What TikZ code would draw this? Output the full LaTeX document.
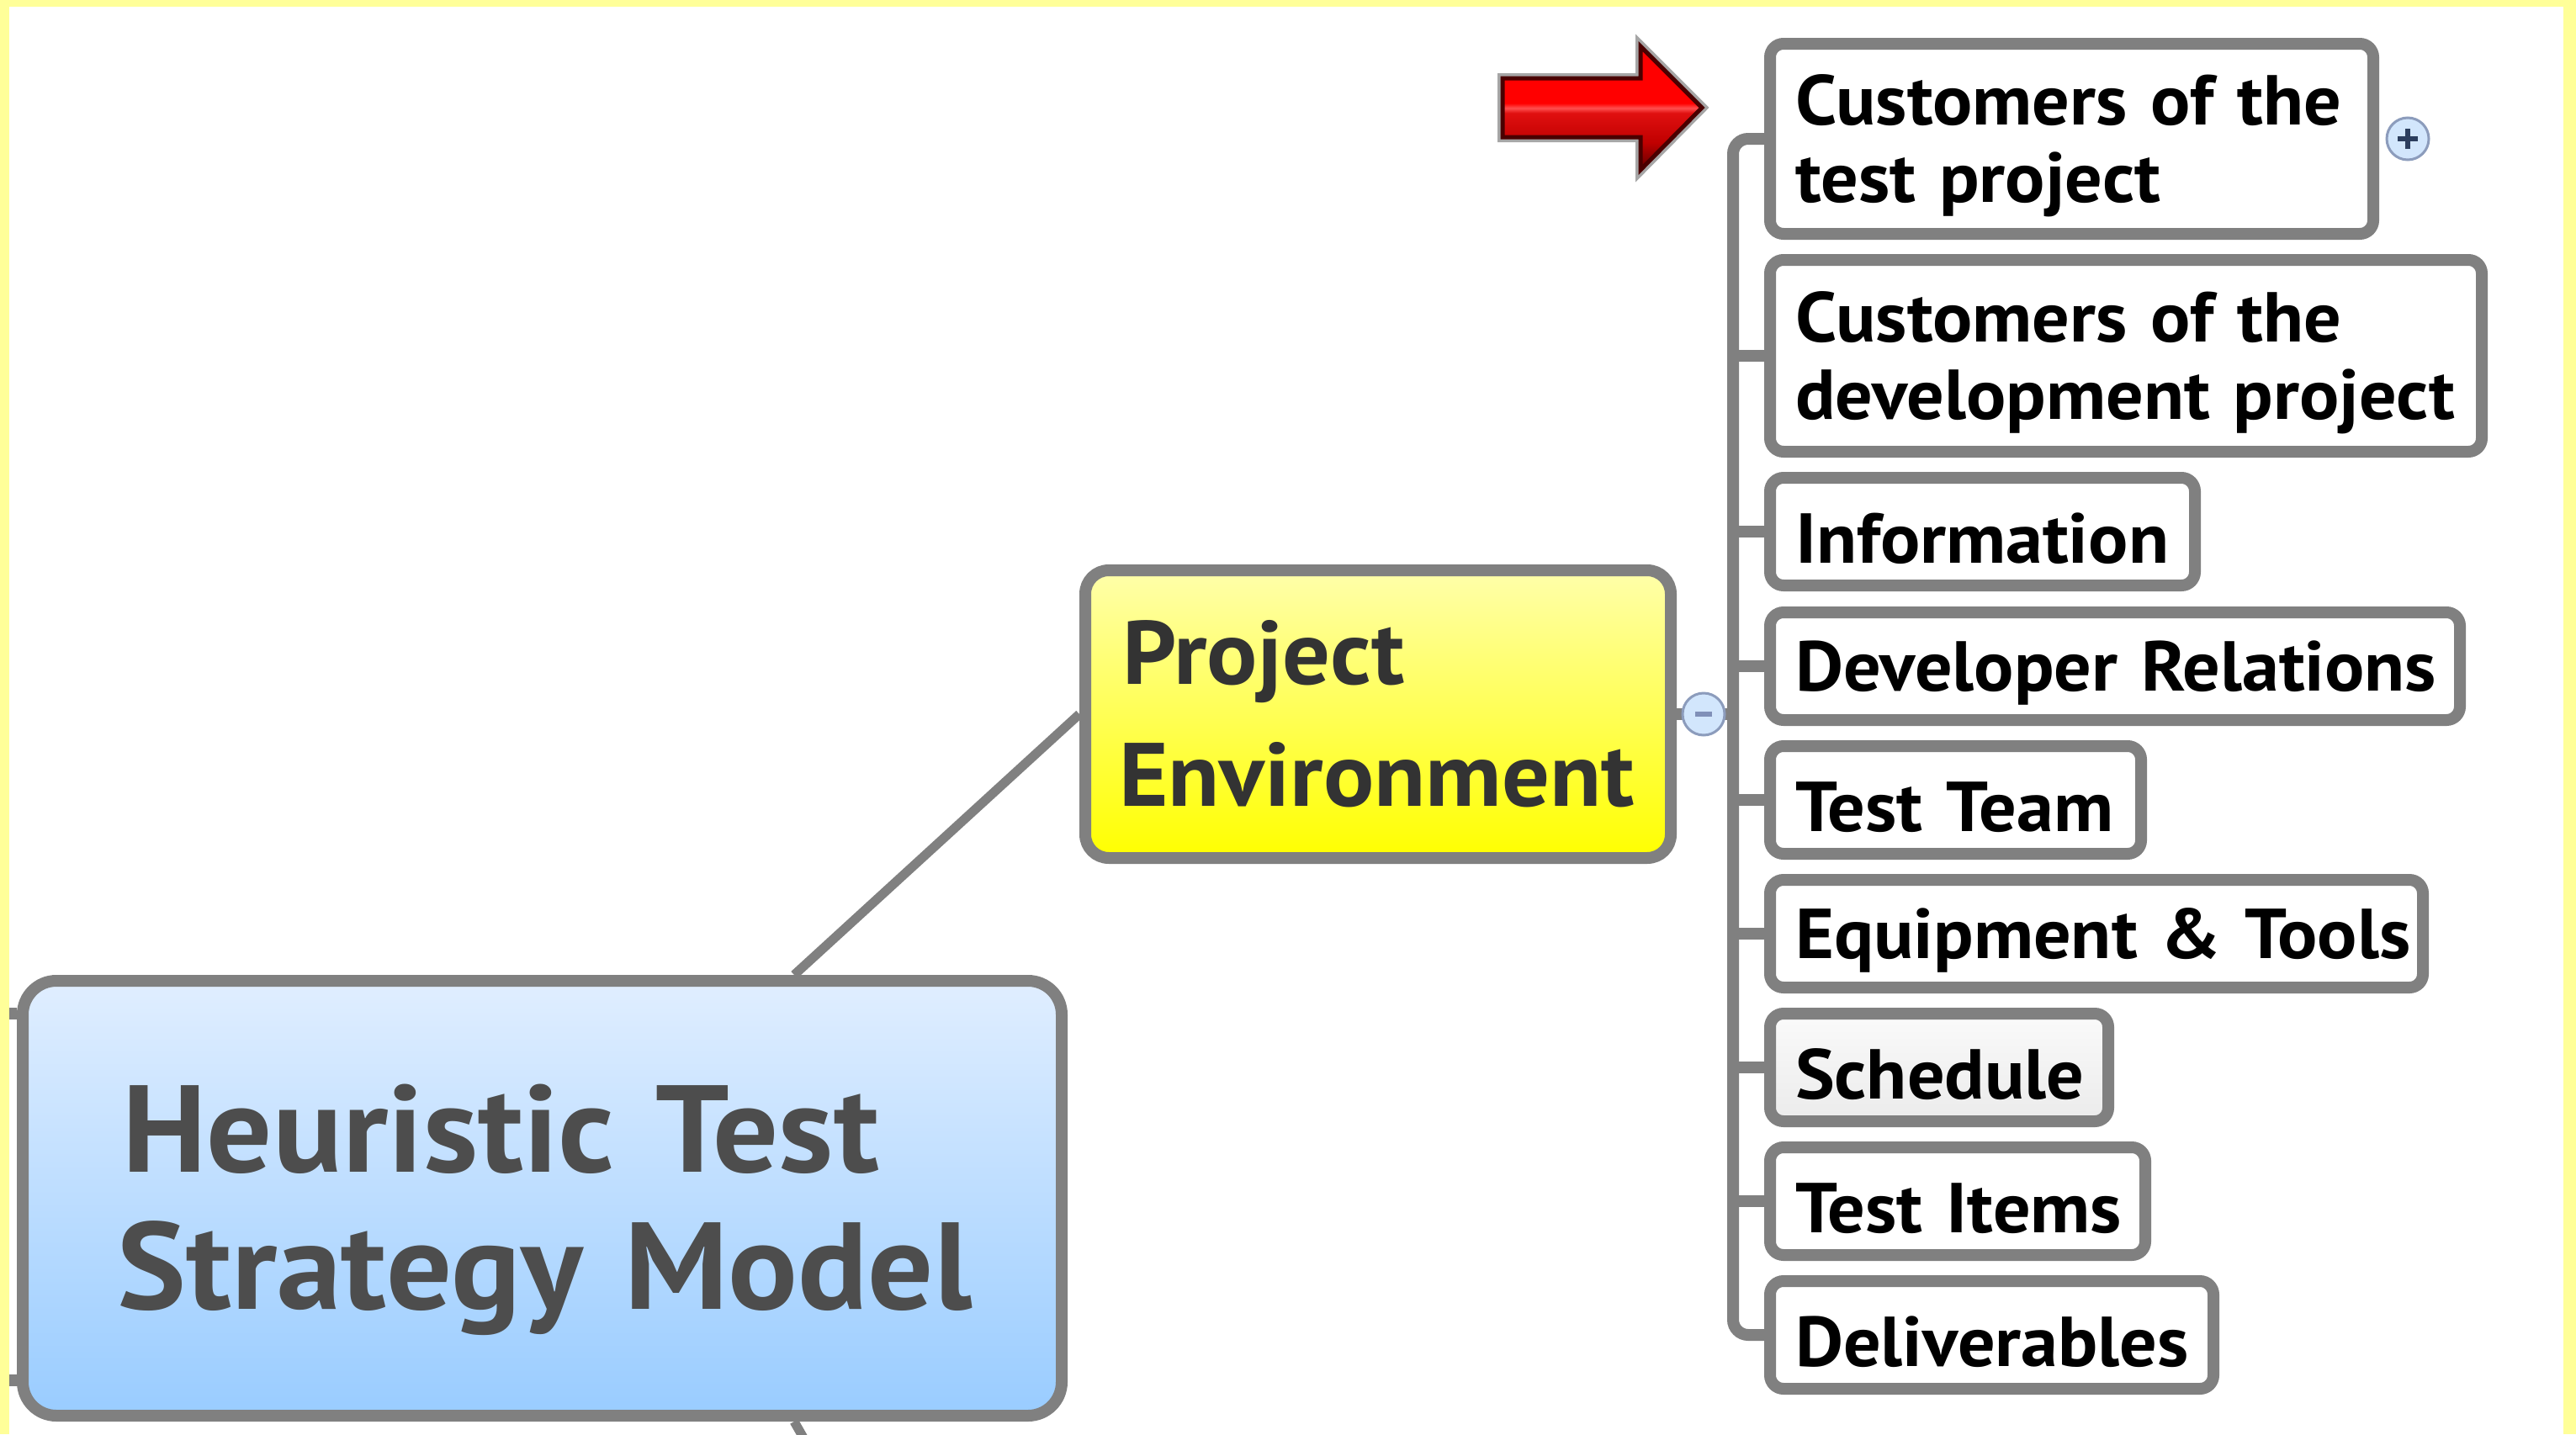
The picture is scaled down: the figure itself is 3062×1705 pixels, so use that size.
\documentclass[tikz,border=0pt]{standalone}
\usepackage{fontspec}
\setmainfont{PT Sans}[FakeStretch=1.05]
\usetikzlibrary{shadings}
\definecolor{linegray}{HTML}{808080}
\definecolor{frameyellow}{HTML}{FFFF99}
\definecolor{roottop}{HTML}{E0EEFF}
\definecolor{rootbot}{HTML}{99CCFF}
\definecolor{petop}{HTML}{FFFFAA}
\definecolor{pebot}{HTML}{FFFF00}
\definecolor{roottext}{HTML}{4D4D4D}
\definecolor{petext}{HTML}{333333}
\definecolor{togfill}{HTML}{D2E6FC}
\definecolor{togdraw}{HTML}{8C9CBC}
\definecolor{plusink}{HTML}{2C3E5E}
\definecolor{minusink}{HTML}{8090B8}
\definecolor{arrowedge}{HTML}{4A0000}
\definecolor{schedtop}{HTML}{FAFAFA}
\definecolor{schedbot}{HTML}{EBEBEB}
\definecolor{adark}{HTML}{600000}
\definecolor{amid}{HTML}{C00000}
\definecolor{ared2}{HTML}{E01010}
\definecolor{ahigh}{HTML}{FF5050}
\definecolor{ared}{HTML}{FF0000}
\pgfdeclareverticalshading{redarrow}{100bp}{color(0bp)=(adark); color(25bp)=(adark); color(36bp)=(amid); color(48bp)=(ared2); color(50bp)=(ahigh); color(52bp)=(ared); color(75bp)=(ared); color(100bp)=(ared)}
\newcommand\leaffont{\fontsize{84}{92}\selectfont\bfseries}
\newcommand\leafstrut{\rule{0pt}{76pt}}
\newcommand\rootstrut{\rule{0pt}{132pt}}
\tikzset{
  leaf/.style={anchor=north west, draw=linegray, line width=14pt, rounded corners=16pt,
    fill=white, inner xsep=30pt, inner ysep=0pt, minimum height=128pt, align=left,
    font=\leaffont, text=black},
  pebox/.style={anchor=north west, draw=linegray, line width=14pt, rounded corners=28pt,
    top color=petop, bottom color=pebot, text width=616pt, inner xsep=40pt, inner ysep=0pt,
    minimum height=342pt, align=left, text=petext, font=\fontsize{107}{145}\selectfont\bfseries},
  rootbox/.style={anchor=north west, draw=linegray, line width=14pt, rounded corners=40pt,
    top color=roottop, bottom color=rootbot, text width=1010pt, inner xsep=112.5pt, inner ysep=0pt,
    minimum height=517pt, align=left, text=roottext, font=\fontsize{147}{163}\selectfont\bfseries},
  conn/.style={draw=linegray, line width=14pt},
  thinconn/.style={draw=linegray, line width=11pt},
  toggle/.style={circle, draw=togdraw, fill=togfill, line width=3pt, minimum size=50pt, inner sep=0pt},
}
\begin{document}
\begin{tikzpicture}[x=1pt,y=-1pt]
\useasboundingbox (0,0) rectangle (3062,1705);
\clip (0,0) rectangle (3062,1705);
\fill[white] (0,0) rectangle (3062,1705);

% central and main nodes
\node[rootbox] (root) at (20,1159) {\mbox{\rootstrut\hspace{6pt}Heuristic Test}\\\mbox{Strategy Model}};
\node[pebox] (pe) at (1283,671) {\mbox{\hspace{4pt}Project}\\\mbox{Environment}};

% leaves
\node[leaf, text width=657pt, minimum height=226pt] (c1) at (2097,45) {\mbox{\leafstrut Customers of the}\\\mbox{test project}};
\node[leaf, text width=786pt, minimum height=228pt] (c2) at (2097,302) {\mbox{\leafstrut Customers of the}\\\mbox{development project}};
\node[leaf, text width=445pt] (info) at (2097,561) {\mbox{\leafstrut Information}};
\node[leaf, text width=760pt] (devrel) at (2097,721) {\mbox{\leafstrut Developer Relations}};
\node[leaf, text width=381pt] (team) at (2097,880) {\mbox{\leafstrut Test Team}};
\node[leaf, text width=716pt] (equip) at (2097,1039) {\mbox{\leafstrut Equipment \& Tools}};
\node[leaf, text width=342pt, top color=schedtop, bottom color=schedbot] (sched) at (2097,1198) {\mbox{\leafstrut Schedule}};
\node[leaf, text width=386pt] (items) at (2097,1357) {\mbox{\leafstrut Test Items}};
\node[leaf, text width=467pt] (deliv) at (2097,1516) {\mbox{\leafstrut Deliverables}};

% connectors
\coordinate (sp) at (2060,0);
\coordinate (rt) at (944,0);
\coordinate (offb) at (984,1760);
\coordinate (offla) at (0,1205);
\coordinate (offlb) at (0,1641);
\draw[conn, rounded corners=18pt] (c1.west) -- (c1.west -| sp) -- (deliv.west -| sp) -- (deliv.west);
\foreach \n in {c2,info,devrel,team,equip,sched,items}
  \draw[conn] (\n.west) -- (\n.west -| sp);
\draw[conn] (pe.east) -- (pe.east -| sp);
\draw[thinconn] (root.north -| rt) -- (pe.west);
\draw[thinconn] (root.south -| rt) -- (offb);
\draw[conn] (root.west |- offla) -- (offla);
\draw[conn] (root.west |- offlb) -- (offlb);

% toggles
\node[toggle] (minus) at (2025,849) {};
\draw[minusink, line width=6pt] ([xshift=-10pt]minus.center) -- ([xshift=10pt]minus.center);
\node[toggle] (plus) at (2862,165) {};
\draw[plusink, line width=6pt] ([xshift=-12pt]plus.center) -- ([xshift=12pt]plus.center);
\draw[plusink, line width=6pt] ([yshift=-12pt]plus.center) -- ([yshift=12pt]plus.center);

% red pointer arrow
\path[draw=black, draw opacity=0.35, line width=12pt, line join=miter]
  (1786,93) -- (1950,93) -- (1950,55) -- (2023,128) -- (1950,202) -- (1950,163) -- (1786,163) -- cycle;
\path[shading=redarrow, draw=arrowedge, line width=5pt, line join=miter]
  (1786,93) -- (1950,93) -- (1950,55) -- (2023,128) -- (1950,202) -- (1950,163) -- (1786,163) -- cycle;

% yellow frame
\fill[frameyellow] (0,0) rectangle (3062,8);
\fill[frameyellow] (0,0) rectangle (11,1705);
\fill[frameyellow] (3047,0) rectangle (3062,1705);
\end{tikzpicture}
\end{document}
